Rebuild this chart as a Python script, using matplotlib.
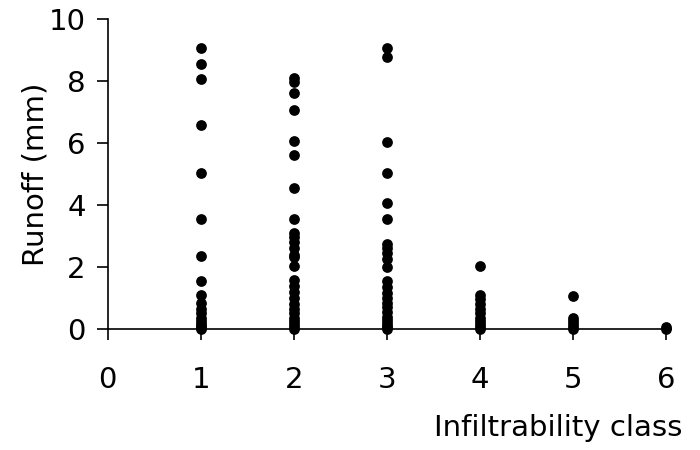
import matplotlib
matplotlib.use('Agg')
import matplotlib.pyplot as plt

plt.rcParams['font.family'] = ['DejaVu Sans']

# runoff (mm) observed per infiltrability class
class1 = [9.05, 8.55, 8.05, 6.58, 5.02, 3.54, 2.35, 1.56, 1.10, 0.85, 0.65,
          0.5, 0.35, 0.25, 0.15, 0.08, 0.03, 0.0]
class2 = [8.1, 7.95, 7.6, 7.05, 6.05, 5.6, 4.55, 3.55, 3.1, 2.95, 2.8, 2.6,
          2.4, 2.33, 2.02, 1.58, 1.4, 1.2, 1.0, 0.8, 0.65, 0.5, 0.35, 0.25,
          0.15, 0.05, 0.0]
class3 = [9.05, 8.76, 6.04, 5.02, 4.07, 3.55, 2.75, 2.6, 2.45, 2.25, 2.0,
          1.55, 1.35, 1.15, 1.0, 0.85, 0.7, 0.55, 0.4, 0.3, 0.2, 0.1, 0.05,
          0.0]
class4 = [2.04, 1.1, 0.95, 0.8, 0.65, 0.5, 0.35, 0.25, 0.15, 0.05, 0.0]
class5 = [1.07, 0.35, 0.25, 0.15, 0.05, 0.0]
class6 = [0.06, 0.0]

runoff = [class1, class2, class3, class4, class5, class6]
classes = [1, 2, 3, 4, 5, 6]

fig = plt.figure(figsize=(7, 4.5), dpi=100)
ax = fig.add_axes([0.154, 0.269, 0.804, 0.689])

for c, vals in zip(classes, runoff):
    ax.scatter([c] * len(vals), vals, s=60, color='black', zorder=3,
               clip_on=False, linewidths=0)

ax.set_xlim(0, 6.05)
ax.set_ylim(0, 10)
ax.set_xticks(range(0, 7))
ax.set_yticks(range(0, 11, 2))

for side in ['top', 'right']:
    ax.spines[side].set_visible(False)
for side in ['left', 'bottom']:
    ax.spines[side].set_linewidth(1.2)

ax.tick_params(axis='x', direction='out', length=8, width=1.2, pad=19,
               labelsize=21)
ax.tick_params(axis='y', direction='out', length=8, width=1.2, pad=8,
               labelsize=21)

ax.set_ylabel("Runoff (mm)", fontsize=21)
ax.yaxis.set_label_coords(-0.104, 0.5)
ax.set_xlabel("Infiltrability class", fontsize=21, ha='right')
ax.xaxis.set_label_coords(1.021, -0.275)

fig.savefig("out.png", dpi=100)
